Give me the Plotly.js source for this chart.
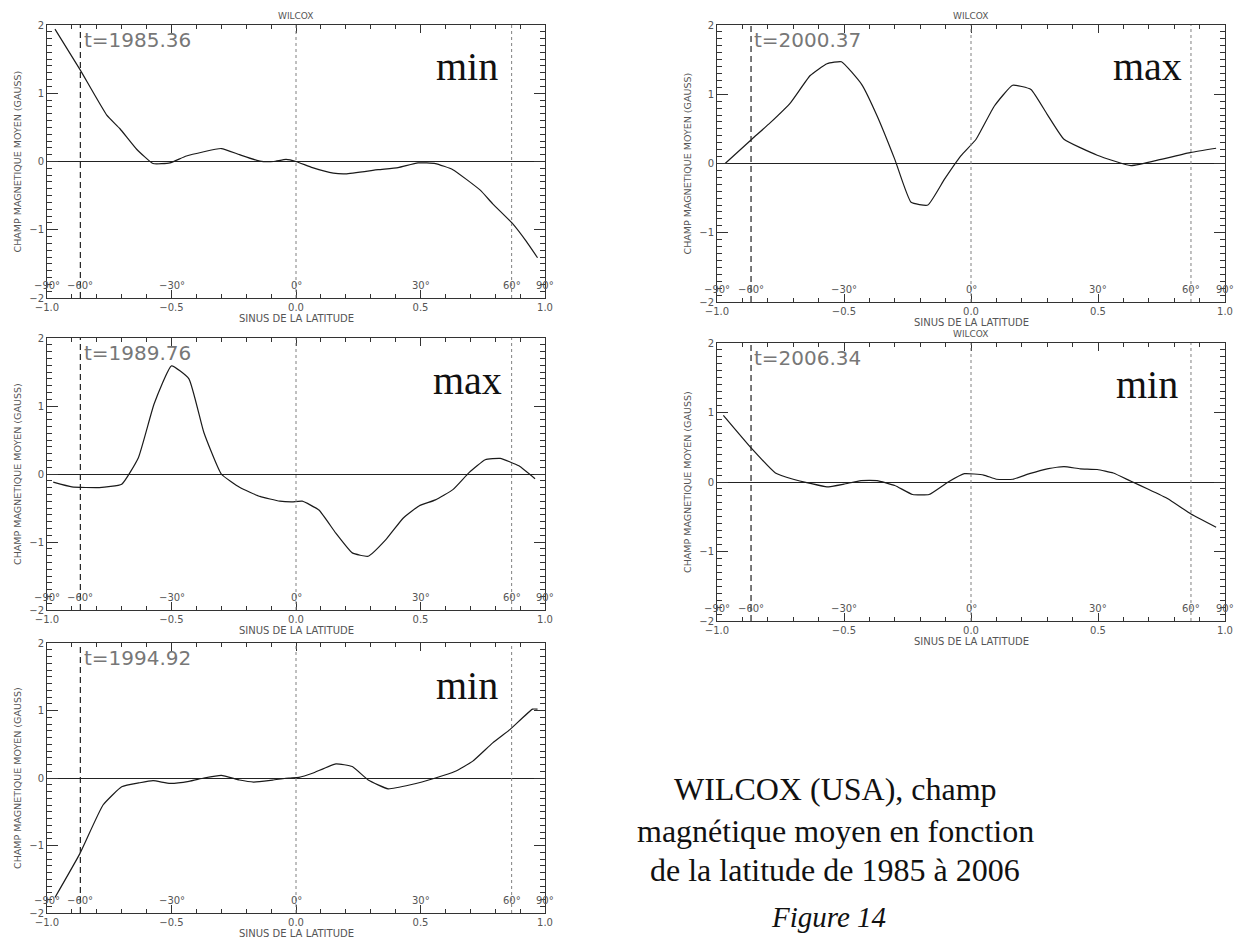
<!DOCTYPE html>
<html>
<head>
<meta charset="utf-8">
<script src="https://cdn.plot.ly/plotly-3.0.1.min.js"></script>
<style>
  html, body { margin: 0; padding: 0; background: #ffffff; }
  #chart { width: 1236px; height: 940px; }
</style>
</head>
<body>
<div id="chart"></div>
<script>
// ---------- DATA ----------
// x = sinus de la latitude, y = champ magnétique moyen (gauss)
const x1985 = [-0.968,-0.868,-0.76,-0.707,-0.64,-0.574,-0.506,-0.44,-0.30,-0.227,-0.145,-0.09,-0.04,0.0,0.066,0.15,0.2,0.33,0.41,0.49,0.56,0.63,0.74,0.79,0.87,0.925,0.97];
const y1985 = [1.94,1.35,0.68,0.48,0.18,-0.03,-0.02,0.08,0.19,0.10,0.005,0.0,0.03,0.0,-0.09,-0.17,-0.18,-0.12,-0.09,-0.02,-0.03,-0.12,-0.42,-0.62,-0.91,-1.17,-1.41];

const x1989 = [-0.975,-0.90,-0.79,-0.70,-0.633,-0.57,-0.5,-0.43,-0.37,-0.30,-0.225,-0.145,-0.065,-0.016,0.025,0.092,0.16,0.226,0.29,0.36,0.43,0.494,0.56,0.63,0.695,0.76,0.82,0.895,0.96];
const y1989 = [-0.12,-0.19,-0.20,-0.15,0.24,1.03,1.59,1.40,0.61,0.0,-0.2,-0.33,-0.40,-0.41,-0.40,-0.53,-0.87,-1.16,-1.21,-0.97,-0.65,-0.47,-0.38,-0.23,0.02,0.21,0.23,0.12,-0.07];

const x1994 = [-0.968,-0.868,-0.775,-0.70,-0.627,-0.574,-0.506,-0.43,-0.37,-0.30,-0.227,-0.17,-0.094,-0.028,0.012,0.066,0.16,0.226,0.29,0.37,0.46,0.56,0.64,0.71,0.79,0.86,0.95,0.97];
const y1994 = [-1.77,-1.12,-0.40,-0.13,-0.07,-0.04,-0.08,-0.05,0.0,0.04,-0.03,-0.06,-0.03,0.0,0.01,0.07,0.21,0.17,-0.03,-0.16,-0.10,0.0,0.10,0.25,0.52,0.72,1.02,1.02];

const x2000 = [-0.968,-0.863,-0.79,-0.71,-0.633,-0.567,-0.51,-0.43,-0.37,-0.30,-0.236,-0.17,-0.105,-0.04,0.02,0.092,0.164,0.236,0.30,0.366,0.497,0.63,0.748,0.866,0.965];
const y2000 = [0.0,0.35,0.59,0.88,1.27,1.44,1.47,1.14,0.69,0.06,-0.56,-0.60,-0.23,0.11,0.35,0.83,1.13,1.07,0.71,0.35,0.12,-0.03,0.06,0.16,0.22];

const x2006 = [-0.975,-0.863,-0.77,-0.70,-0.633,-0.567,-0.50,-0.433,-0.37,-0.30,-0.23,-0.165,-0.09,-0.026,0.05,0.10,0.165,0.23,0.30,0.366,0.43,0.497,0.56,0.63,0.696,0.775,0.866,0.965];
const y2006 = [0.96,0.48,0.13,0.04,-0.02,-0.07,-0.03,0.02,0.02,-0.05,-0.18,-0.18,0.0,0.12,0.1,0.04,0.04,0.12,0.19,0.22,0.19,0.18,0.13,0.01,-0.1,-0.24,-0.46,-0.65];

const epochLabels = ["t=1985.36","t=1989.76","t=1994.92","t=2000.37","t=2006.34"];
const phaseLabels = ["min","max","min","max","min"];
const showWilcox = [true,false,false,true,true];

const angleDegrees = [-90,-60,-30,0,30,60,90];
const angleLabels = ["\u221290°","\u221260°","\u221230°","0°","30°","60°","90°"];

const panelTitle = "WILCOX";
const xTitle = "SINUS DE LA LATITUDE";
const yTitle = "CHAMP MAGNETIQUE MOYEN (GAUSS)";
const captionLines = ["WILCOX (USA), champ","magnétique moyen en fonction","de la latitude de 1985 à 2006"];
const figureLabel = "Figure 14";

const seriesX = [x1985,x1989,x1994,x2000,x2006];
const seriesY = [y1985,y1989,y1994,y2000,y2006];

// ---------- LAYOUT (pixel geometry) ----------
const W = 1236, H = 940;
const px = v => v / W;
const py = v => 1 - v / H;

// [left, right] , [top, bottom] in pixels
const frames = [
  {x:[47,545],  y:[25,298]},
  {x:[47,545],  y:[338,610]},
  {x:[47,545],  y:[643,913]},
  {x:[717,1225],y:[25,302]},
  {x:[717,1225],y:[343,621]}
];

const axisColor = "#333333";
const textGray = "#555555";
const sinDeg = d => Math.sin(d * Math.PI / 180);

const traces = [];
const layout = {
  width: W, height: H,
  margin: {l:0, r:0, t:0, b:0},
  paper_bgcolor: "#ffffff",
  plot_bgcolor: "#ffffff",
  showlegend: false,
  font: {family: "DejaVu Sans", color: textGray, size: 10},
  annotations: [],
  shapes: []
};

frames.forEach((f, i) => {
  const n = i + 1;
  const xa = "xaxis" + (n === 1 ? "" : n);
  const ya = "yaxis" + (n === 1 ? "" : n);
  const xr = "x" + (n === 1 ? "" : n);
  const yr = "y" + (n === 1 ? "" : n);

  layout[xa] = {
    domain: [px(f.x[0]), px(f.x[1])],
    anchor: yr,
    range: [-1, 1],
    tickmode: "linear", tick0: -1, dtick: 0.5, tickformat: ".1f",
    ticks: "inside", ticklen: 8, tickcolor: axisColor, tickwidth: 1,
    minor: {tickmode: "linear", tick0: -1, dtick: 0.1, ticks: "inside", ticklen: 4, tickcolor: axisColor, tickwidth: 1, showgrid: false},
    showline: true, linecolor: axisColor, linewidth: 1, mirror: "allticks",
    showgrid: false, zeroline: false,
    tickfont: {family: "DejaVu Sans", size: 10, color: textGray},
    fixedrange: true
  };
  layout[ya] = {
    domain: [py(f.y[1]), py(f.y[0])],
    anchor: xr,
    range: [-2, 2],
    tickmode: "linear", tick0: -2, dtick: 1, tickformat: "d",
    ticks: "inside", ticklen: 11, tickcolor: axisColor, tickwidth: 1,
    minor: {tickmode: "linear", tick0: -2, dtick: 0.1, ticks: "inside", ticklen: 5, tickcolor: axisColor, tickwidth: 1, showgrid: false},
    showline: true, linecolor: axisColor, linewidth: 1, mirror: "allticks",
    showgrid: false,
    zeroline: true, zerolinecolor: "#222222", zerolinewidth: 1,
    tickfont: {family: "DejaVu Sans", size: 10, color: textGray},
    fixedrange: true
  };

  // reference meridians: dashed at -60°, dotted at 0° and 60°
  layout.shapes.push({type:"line", xref:xr, yref:yr, x0:sinDeg(-60), x1:sinDeg(-60), y0:-2, y1:2,
    line:{color:"#222222", width:1.2, dash:"6px,4px"}});
  [0, 60].forEach(d => layout.shapes.push({type:"line", xref:xr, yref:yr, x0:sinDeg(d), x1:sinDeg(d), y0:-2, y1:2,
    line:{color:"#808080", width:1, dash:"dot"}}));

  // curve
  traces.push({
    type: "scatter", mode: "lines",
    x: seriesX[i], y: seriesY[i],
    xaxis: xr, yaxis: yr,
    line: {color: "#1a1a1a", width: 1.2, shape: "spline", smoothing: 0.4},
    hoverinfo: "skip"
  });

  // latitude labels inside the plot
  angleDegrees.forEach((d, k) => {
    layout.annotations.push({xref:xr, yref:yr, x:sinDeg(d), y:-1.82, text:angleLabels[k],
      showarrow:false, xanchor:"center", yanchor:"middle",
      font:{family:"DejaVu Sans", size:10, color:textGray}});
  });

  const cx = (f.x[0] + f.x[1]) / 2;
  // WILCOX panel title
  if (showWilcox[i]) {
    layout.annotations.push({xref:"paper", yref:"paper", x:px(cx), y:py(f.y[0] - 9), text:panelTitle,
      showarrow:false, xanchor:"center", yanchor:"middle",
      font:{family:"DejaVu Sans", size:9, color:textGray}});
  }
  // x-axis title
  layout.annotations.push({xref:"paper", yref:"paper", x:px(cx), y:py(f.y[1] + 20), text:xTitle,
    showarrow:false, xanchor:"center", yanchor:"middle",
    font:{family:"DejaVu Sans", size:10, color:textGray}});
  // y-axis title
  layout.annotations.push({xref:"paper", yref:"paper", x:px(f.x[0] - 30), y:py((f.y[0] + f.y[1]) / 2), text:yTitle,
    textangle:-90, showarrow:false, xanchor:"center", yanchor:"middle",
    font:{family:"DejaVu Sans", size:9.5, color:textGray}});
  // epoch label
  layout.annotations.push({xref:"paper", yref:"paper", x:px(f.x[0] + 35), y:py(f.y[0] + 15), text:epochLabels[i],
    showarrow:false, xanchor:"left", yanchor:"middle",
    font:{family:"DejaVu Sans", size:20, color:"#777777"}});
  // min / max
  layout.annotations.push({xref:"paper", yref:"paper", x:px(f.x[1] - 78), y:py(f.y[0] + 42), text:phaseLabels[i],
    showarrow:false, xanchor:"center", yanchor:"middle",
    font:{family:"Liberation Serif", size:40, color:"#111111"}});
});

// caption at bottom right
const captionY = [789, 831, 870];
captionLines.forEach((t, k) => {
  layout.annotations.push({xref:"paper", yref:"paper", x:px(835), y:py(captionY[k]), text:t,
    showarrow:false, xanchor:"center", yanchor:"middle",
    font:{family:"Liberation Serif", size:32, color:"#111111"}});
});
layout.annotations.push({xref:"paper", yref:"paper", x:px(828), y:py(917), text:"<i>" + figureLabel + "</i>",
  showarrow:false, xanchor:"center", yanchor:"middle",
  font:{family:"Liberation Serif", size:29, color:"#111111"}});

Plotly.newPlot("chart", traces, layout, {staticPlot:true, displayModeBar:false});
</script>
</body>
</html>
